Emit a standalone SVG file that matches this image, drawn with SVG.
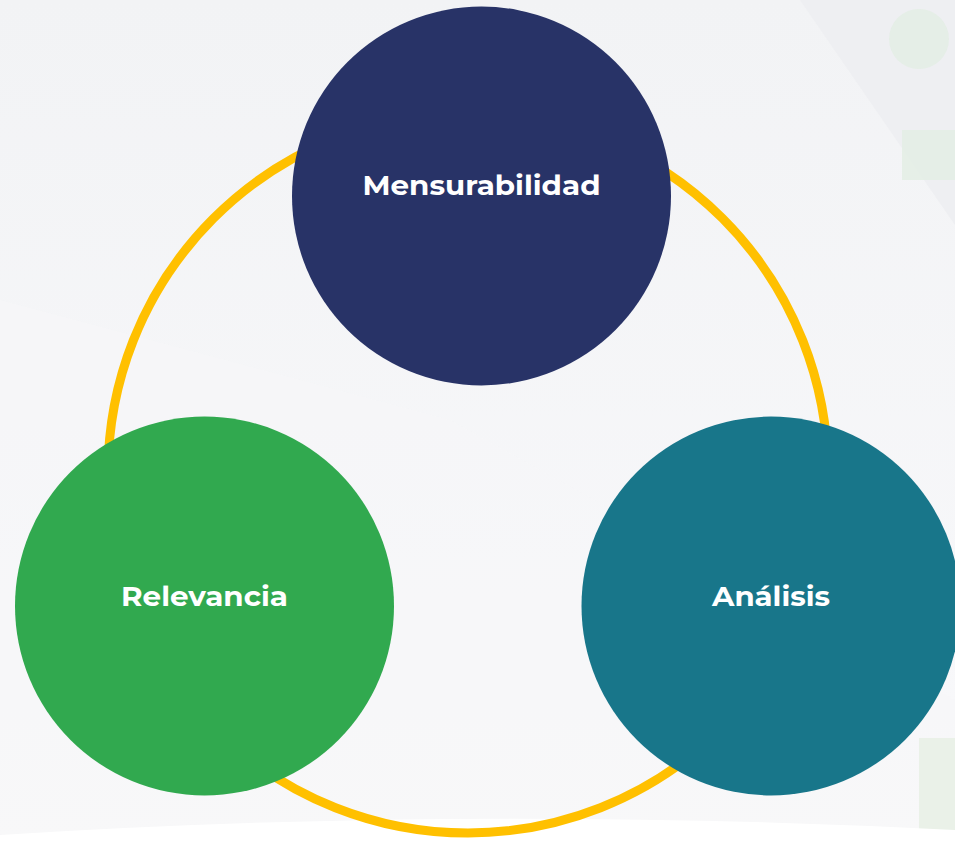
<svg xmlns="http://www.w3.org/2000/svg" width="955" height="843" viewBox="0 0 955 843">
<defs>
<linearGradient id="bg" x1="0" y1="0" x2="0" y2="1">
<stop offset="0" stop-color="#F2F3F5"/>
<stop offset="1" stop-color="#F9F9FB"/>
</linearGradient>
<style>
.lbl{font-family:Montserrat,Inter,"Noto Sans",sans-serif;font-weight:700;font-size:27px;fill:#FFFFFF;text-anchor:middle}
.deco{fill:#E2EDE3}
</style>
</defs>
<rect width="955" height="843" fill="url(#bg)"/>
<polygon points="800,0 955,0 955,225" fill="#EEEFF2"/>
<polygon points="0,300 450,420 955,700 955,843 0,843" fill="#F7F7F9" opacity="0.6"/>
<circle class="deco" cx="919" cy="39" r="30" opacity="0.8"/>
<rect class="deco" x="902" y="130" width="53" height="50" opacity="0.8"/>
<rect x="919" y="738" width="36" height="105" fill="#EAF1E8"/>
<path d="M0,843 L0,835 Q470,805 955,830 L955,843 Z" fill="#FFFFFF"/>
<g id="connectors">
<circle cx="468" cy="473" r="360" fill="none" stroke="#FFC000" stroke-width="9"/>
</g>
<g id="node-mensurabilidad">
<circle cx="481.5" cy="196" r="189.5" fill="#283367"/>
<text class="lbl" x="481.5" y="195" textLength="238" lengthAdjust="spacingAndGlyphs">Mensurabilidad</text>
</g>
<g id="node-relevancia">
<circle cx="204.5" cy="606" r="189.5" fill="#31A94F"/>
<text class="lbl" x="204.5" y="606" textLength="167" lengthAdjust="spacingAndGlyphs">Relevancia</text>
</g>
<g id="node-analisis">
<circle cx="771" cy="606" r="189.5" fill="#18768A"/>
<text class="lbl" x="771" y="606" textLength="118" lengthAdjust="spacingAndGlyphs">Análisis</text>
</g>
</svg>
